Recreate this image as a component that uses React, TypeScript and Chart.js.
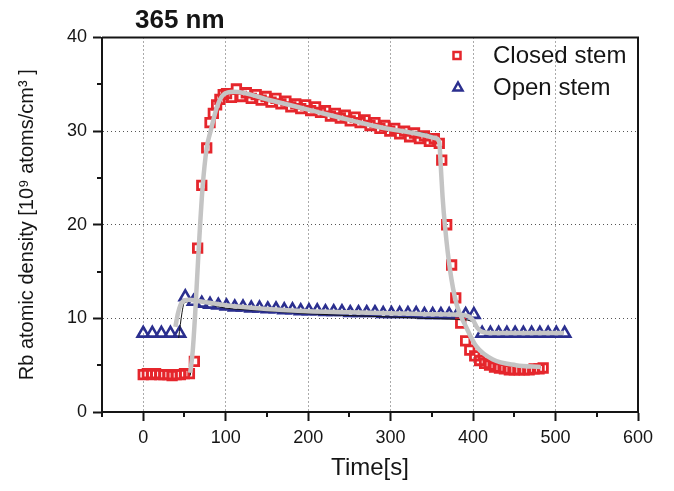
import React, { useEffect, useRef } from 'react';
import { Chart, registerables } from 'chart.js';

Chart.register(...registerables);

// ---------------- data ----------------
const titleText = '365 nm';
const xTitle = 'Time[s]';
const yTitle = 'Rb atomic density [10⁹ atoms/cm³ ]';
const seriesLabels = ['Closed stem', 'Open stem'];

const xTickValues = [0, 100, 200, 300, 400, 500, 600];
const yTickValues = [0, 10, 20, 30, 40];

// Closed stem (red squares)
const closedTimes = [
  0, 5, 10, 15, 20, 25, 30, 35, 40, 45, 50, 56,
  62, 66, 71, 77, 81, 85, 89, 93, 97,
  101, 107, 113, 119, 125, 131, 137, 143, 149, 155, 161, 167, 173, 179, 185, 191, 197,
  203, 209, 215, 221, 227, 233, 239, 245, 251, 257, 263, 269, 275, 281, 287, 293, 299,
  305, 311, 317, 323, 329, 335, 341, 347, 353, 359,
  362, 368, 374, 379, 385, 391, 396, 402, 408, 414, 420, 426, 432, 438, 444, 450, 456, 462, 468, 474, 480, 485,
];
const closedValues = [
  4.0, 4.1, 4.0, 4.1, 4.0, 4.0, 4.0, 3.9, 4.0, 4.0, 4.1, 4.1,
  5.4, 17.5, 24.2, 28.2, 30.9, 31.9, 32.8, 33.4, 33.9,
  34.0, 33.6, 34.5, 33.7, 34.1, 33.5, 33.9, 33.3, 33.7, 33.1, 33.5, 32.9, 33.2, 32.6, 32.9, 32.4, 32.8,
  32.2, 32.6, 32.0, 32.2, 31.6, 31.9, 31.4, 31.7, 31.1, 31.5, 30.9, 31.2, 30.6, 30.9, 30.3, 30.6, 30.0,
  30.3, 29.7, 30.0, 29.4, 29.8, 29.2, 29.5, 28.9, 29.2, 28.7,
  26.9, 20.0, 15.7, 12.2, 9.5, 7.6, 6.6, 6.0, 5.5, 5.2, 5.0, 4.8, 4.7, 4.6, 4.5, 4.5, 4.5, 4.5, 4.5, 4.6, 4.6, 4.7,
];

// Open stem (blue triangles)
const openTimes = [
  0, 11, 22, 33, 44,
  51, 61, 71, 81, 91, 101, 111, 121, 131, 141, 151, 161, 171, 181, 191, 201,
  211, 221, 231, 241, 251, 261, 271, 281, 291, 301, 311, 321, 331, 341, 351, 361, 371, 381, 391, 401,
  411, 421, 431, 441, 451, 461, 471, 481, 491, 501, 511,
];
const openValues = [
  8.4, 8.4, 8.4, 8.4, 8.4,
  12.3, 11.8, 11.6, 11.5, 11.4, 11.3, 11.2, 11.2, 11.1, 11.1, 11.0, 11.0, 10.9, 10.9, 10.8, 10.8,
  10.8, 10.7, 10.7, 10.7, 10.6, 10.6, 10.6, 10.6, 10.5, 10.5, 10.5, 10.5, 10.5, 10.4, 10.4, 10.4, 10.4, 10.4, 10.4, 10.4,
  8.4, 8.4, 8.4, 8.4, 8.4, 8.4, 8.4, 8.4, 8.4, 8.4, 8.4,
];

// Fit curves (gray, thick)
const closedFitTimes = [
  57, 60, 63, 67, 72, 77, 82, 89.5, 97.5, 110, 154, 200, 250, 300, 356,
  359, 361, 363, 366, 372, 380, 392, 404, 424, 452, 482,
];
const closedFitValues = [
  4.2, 6.5, 10.5, 17, 24, 28.2, 30.1, 32.6, 33.9, 34.2, 33.3, 32.3, 31.2, 30.2, 29.2,
  28.8, 26, 23, 19.8, 15.2, 11.5, 9.0, 7.0, 5.6, 5.0, 4.8,
];
const openFitTimes = [
  39, 42, 45, 48, 55, 70, 100, 150, 200, 250, 300, 350, 385, 395, 400, 405, 410, 420, 510,
];
const openFitValues = [
  9.1, 10.5, 11.4, 11.8, 12.0, 11.8, 11.4, 11.0, 10.75, 10.65, 10.55, 10.45, 10.4, 10.2, 9.8, 9.0, 8.6, 8.45, 8.45,
];

// Fit curves (black, thin)
const closedBlackTimes = [
  57, 60, 63, 67, 72, 77, 82, 89.5, 97.5, 110, 154, 200, 250, 300, 357,
  360, 362, 364, 367, 372, 380, 392, 404, 424, 452, 482,
];
const closedBlackValues = [
  3.9, 6.3, 10.3, 17, 24, 28.2, 30.1, 32.6, 33.9, 34.2, 33.3, 32.3, 31.2, 30.2, 29.3,
  28.6, 25.5, 22.5, 19.5, 15.2, 11.5, 9.0, 7.0, 5.6, 5.0, 4.8,
];
const openBlackTimes = [
  43, 47, 50, 60, 100, 150, 200, 250, 300, 340, 380, 398, 405, 412, 420, 510,
];
const openBlackValues = [
  7.9, 10.6, 11.7, 11.8, 11.1, 10.8, 10.5, 10.3, 10.15, 10.0, 9.9, 9.7, 9.2, 8.6, 8.45, 8.45,
];

// ---------------- styling ----------------
const FONT = '"Liberation Sans", Arial, Helvetica, sans-serif';
const RED = '#e5262c';
const BLUE = '#2b2f8f';
const GRAY = '#c4c4c4';
const INK = '#151515';

const toPoints = (xs: number[], ys: number[]) => xs.map((x, i) => ({ x, y: ys[i] }));

const decorPlugin = {
  id: 'decor',
  afterDraw(chart: any) {
    const { ctx, chartArea: a, scales } = chart;
    const xs = scales.x;
    const ys = scales.y;
    ctx.save();
    // top & right frame
    ctx.strokeStyle = INK;
    ctx.lineWidth = 2;
    ctx.beginPath();
    ctx.moveTo(a.left, a.top);
    ctx.lineTo(a.right, a.top);
    ctx.lineTo(a.right, a.bottom);
    ctx.stroke();
    // minor ticks
    ctx.lineWidth = 2;
    xs.ticks.forEach((t: any) => {
      if (!xTickValues.includes(t.value)) {
        const px = Math.round(xs.getPixelForValue(t.value));
        ctx.beginPath();
        ctx.moveTo(px, a.bottom);
        ctx.lineTo(px, a.bottom + 5);
        ctx.stroke();
      }
    });
    ys.ticks.forEach((t: any) => {
      if (!yTickValues.includes(t.value)) {
        const py = Math.round(ys.getPixelForValue(t.value));
        ctx.beginPath();
        ctx.moveTo(a.left, py);
        ctx.lineTo(a.left - 5, py);
        ctx.stroke();
      }
    });
    // title
    ctx.fillStyle = INK;
    ctx.font = `bold 26px ${FONT}`;
    ctx.textAlign = 'left';
    ctx.textBaseline = 'middle';
    ctx.fillText(titleText, a.left + 33, 21);
    // legend
    const lx = a.right - 181;
    const rows = [a.top + 18, a.top + 49.5];
    ctx.font = `24px ${FONT}`;
    ctx.textBaseline = 'middle';
    // square
    ctx.lineWidth = 2.5;
    ctx.strokeStyle = RED;
    ctx.strokeRect(lx - 3.5, rows[0] - 3.5, 7, 7);
    // triangle
    ctx.strokeStyle = BLUE;
    ctx.beginPath();
    ctx.moveTo(lx + 1, rows[1] - 4.5);
    ctx.lineTo(lx + 5.5, rows[1] + 3.5);
    ctx.lineTo(lx - 3.5, rows[1] + 3.5);
    ctx.closePath();
    ctx.stroke();
    ctx.fillStyle = INK;
    ctx.fillText(seriesLabels[0], lx + 36, rows[0] + 1);
    ctx.fillText(seriesLabels[1], lx + 36, rows[1] + 1);
    ctx.restore();
  },
};

export default function App() {
  const ref = useRef<HTMLCanvasElement>(null);

  useEffect(() => {
    document.body.style.margin = '0';
    if (!ref.current) return;
    const chart = new Chart(ref.current, {
      type: 'scatter',
      data: {
        datasets: [
          {
            label: seriesLabels[0],
            data: toPoints(closedTimes, closedValues),
            showLine: false,
            pointStyle: 'rect',
            pointRadius: 6,
            pointBorderWidth: 2.8,
            borderColor: RED,
            backgroundColor: 'transparent',
            order: 3,
          },
          {
            label: seriesLabels[1],
            data: toPoints(openTimes, openValues),
            showLine: false,
            pointStyle: 'triangle',
            pointRadius: 6.5,
            pointBorderWidth: 2.6,
            borderColor: BLUE,
            backgroundColor: 'transparent',
            order: 3,
          },
          {
            label: 'closed fit (thin)',
            data: toPoints(closedBlackTimes, closedBlackValues),
            showLine: true,
            pointRadius: 0,
            borderColor: INK,
            borderWidth: 1,
            cubicInterpolationMode: 'monotone',
            order: 2,
          },
          {
            label: 'open fit (thin)',
            data: toPoints(openBlackTimes, openBlackValues),
            showLine: true,
            pointRadius: 0,
            borderColor: INK,
            borderWidth: 1,
            cubicInterpolationMode: 'monotone',
            order: 2,
          },
          {
            label: 'closed fit',
            data: toPoints(closedFitTimes, closedFitValues),
            showLine: true,
            pointRadius: 0,
            borderColor: GRAY,
            borderWidth: 4.5,
            cubicInterpolationMode: 'monotone',
            order: 1,
          },
          {
            label: 'open fit',
            data: toPoints(openFitTimes, openFitValues),
            showLine: true,
            pointRadius: 0,
            borderColor: GRAY,
            borderWidth: 4.5,
            cubicInterpolationMode: 'monotone',
            order: 1,
          },
        ],
      },
      options: {
        animation: false,
        responsive: false,
        devicePixelRatio: 1,
        events: [],
        layout: { padding: { top: 37.5, right: 36, bottom: 0, left: 0 } },
        plugins: {
          legend: { display: false },
          title: { display: false },
          tooltip: { enabled: false },
        },
        scales: {
          x: {
            type: 'linear',
            min: -50,
            max: 600,
            afterFit: (s: any) => { s.height = 79; },
            ticks: {
              stepSize: 50,
              autoSkip: false,
              maxRotation: 0,
              padding: 6,
              color: INK,
              font: { family: FONT, size: 18 },
              callback: (v: any) => (xTickValues.includes(Number(v)) ? String(v) : ''),
            },
            grid: {
              color: (c: any) => {
                const v = c.tick?.value;
                return v !== undefined && xTickValues.includes(v) && v > -50 && v < 600 ? '#555' : 'transparent';
              },
              lineWidth: 1,
              tickLength: 9,
              tickWidth: 2,
              tickColor: (c: any) => (c.tick && xTickValues.includes(c.tick.value) ? INK : 'transparent'),
            },
            border: { display: true, color: INK, width: 2, dash: [1, 3] },
            title: {
              display: true,
              text: xTitle,
              color: INK,
              font: { family: FONT, size: 24 },
              padding: { top: 0, bottom: 8 },
            },
          },
          y: {
            type: 'linear',
            min: 0,
            max: 40,
            afterFit: (s: any) => { s.width = 102; },
            ticks: {
              stepSize: 5,
              padding: 6,
              color: INK,
              font: { family: FONT, size: 18 },
              callback: (v: any) => (yTickValues.includes(Number(v)) ? String(v) : ''),
            },
            grid: {
              color: (c: any) => {
                const v = c.tick?.value;
                return v !== undefined && yTickValues.includes(v) && v > 0 && v < 40 ? '#555' : 'transparent';
              },
              lineWidth: 1,
              tickLength: 9,
              tickWidth: 2,
              tickColor: (c: any) => (c.tick && yTickValues.includes(c.tick.value) ? INK : 'transparent'),
            },
            border: { display: true, color: INK, width: 2, dash: [1, 3] },
            title: {
              display: true,
              text: yTitle,
              color: INK,
              font: { family: FONT, size: 20 },
              padding: { top: 15, bottom: 0 },
            },
          },
        },
      },
      plugins: [decorPlugin],
    } as any);
    return () => chart.destroy();
  }, []);

  return (
    <div style={{ width: 674, height: 491, background: '#fff' }}>
      <canvas ref={ref} width={674} height={491} style={{ display: 'block', width: 674, height: 491 }} />
    </div>
  );
}
